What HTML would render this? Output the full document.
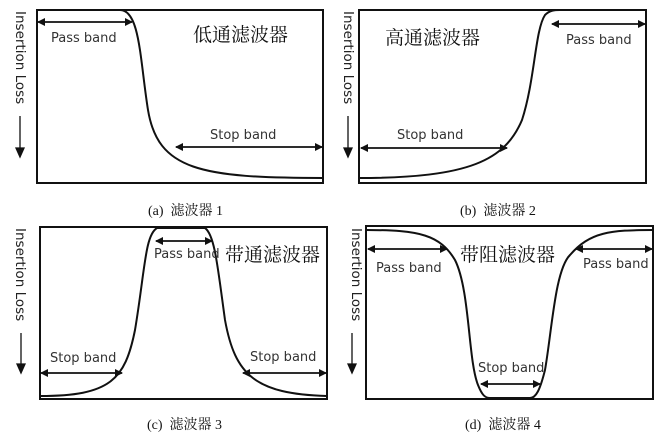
<!DOCTYPE html>
<html><head><meta charset="utf-8"><style>
html,body{margin:0;padding:0;background:#fff;}
svg{display:block}
.en{font-family:"DejaVu Sans","Liberation Sans",sans-serif;font-size:13px;fill:#333}
.cn{font-family:"Liberation Serif","Noto Serif CJK SC",serif;font-size:19px;fill:#111}
.cap{font-family:"Liberation Serif","Noto Serif CJK SC",serif;font-size:14px;fill:#111;white-space:pre}
.yl{font-family:"DejaVu Sans","Liberation Sans",sans-serif;font-size:13.5px;fill:#222}
</style></head><body>
<svg width="671" height="445" viewBox="0 0 671 445" xmlns="http://www.w3.org/2000/svg">
<defs>
<marker id="ah" markerWidth="8" markerHeight="8" refX="7" refY="4" orient="auto-start-reverse" markerUnits="userSpaceOnUse">
<path d="M0,0 L8,4 L0,8 z" fill="#111"/></marker>
</defs>
<g fill="none" stroke="#111" stroke-width="2">
<rect x="37" y="10" width="286" height="173"/>
<path d="M37,10 L120,10 C140,10 140,60 148,110 C158,170 200,178 323,178" />
<rect x="359" y="10" width="287" height="173"/>
<path d="M359,178 C470,178 505,160 522,120 C535,80 535,30 545,15 C550,10 555,10 560,10" />
<rect x="40" y="227" width="287" height="172"/>
<path d="M40,396 C110,396 125,380 135,330 C145,270 145,235 157,228 L205,228 C215,235 218,270 225,320 C235,375 255,394 327,396" />
<rect x="366" y="226" width="287" height="173"/>
<path d="M366,230 C420,230 440,235 455,260 C470,290 468,360 478,385 C482,395 485,398 490,398 L530,398 C536,398 540,390 545,370 C552,330 555,270 570,255 C590,232 610,230 653,230" />
</g>
<g stroke="#111" stroke-width="1.8" marker-start="url(#ah)" marker-end="url(#ah)">
<line x1="38" y1="22" x2="132" y2="22"/>
<line x1="176" y1="147" x2="322" y2="147"/>
<line x1="361" y1="148" x2="507" y2="148"/>
<line x1="552" y1="24" x2="645" y2="24"/>
<line x1="156" y1="241" x2="212" y2="241"/>
<line x1="41" y1="373" x2="122" y2="373"/>
<line x1="243" y1="373" x2="326" y2="373"/>
<line x1="368" y1="249" x2="447" y2="249"/>
<line x1="576" y1="249" x2="652" y2="249"/>
<line x1="481" y1="384" x2="540" y2="384"/>
</g>
<g class="en">
<text x="51" y="42">Pass band</text>
<text x="210" y="139">Stop band</text>
<text x="397" y="139">Stop band</text>
<text x="566" y="44">Pass band</text>
<text x="154" y="258">Pass band</text>
<text x="50" y="362">Stop band</text>
<text x="250" y="361">Stop band</text>
<text x="376" y="272">Pass band</text>
<text x="583" y="268">Pass band</text>
<text x="478" y="372">Stop band</text>
</g>
<g class="cn">
<text x="193" y="41">低通滤波器</text>
<text x="385" y="44">高通滤波器</text>
<text x="225" y="261">带通滤波器</text>
<text x="460" y="261">带阻滤波器</text>
</g>
<g class="cap">
<text x="148" y="215" xml:space="preserve">(a)  滤波器 1</text>
<text x="460" y="215" xml:space="preserve">(b)  滤波器 2</text>
<text x="147" y="429" xml:space="preserve">(c)  滤波器 3</text>
<text x="465" y="429" xml:space="preserve">(d)  滤波器 4</text>
</g>
<g class="yl">
<text transform="translate(16,11) rotate(90)">Insertion Loss</text>
<text transform="translate(344,11) rotate(90)">Insertion Loss</text>
<text transform="translate(16,228) rotate(90)">Insertion Loss</text>
<text transform="translate(352,228) rotate(90)">Insertion Loss</text>
</g>
<g stroke="#111" stroke-width="1.3">
<line x1="20" y1="116" x2="20" y2="150"/><path d="M16,148 L24,148 L20,157 z" fill="#111"/>
<line x1="348" y1="116" x2="348" y2="150"/><path d="M344,148 L352,148 L348,157 z" fill="#111"/>
<line x1="21" y1="333" x2="21" y2="366"/><path d="M17,364 L25,364 L21,373 z" fill="#111"/>
<line x1="352" y1="333" x2="352" y2="366"/><path d="M348,364 L356,364 L352,373 z" fill="#111"/>
</g>
</svg>
</body></html>
